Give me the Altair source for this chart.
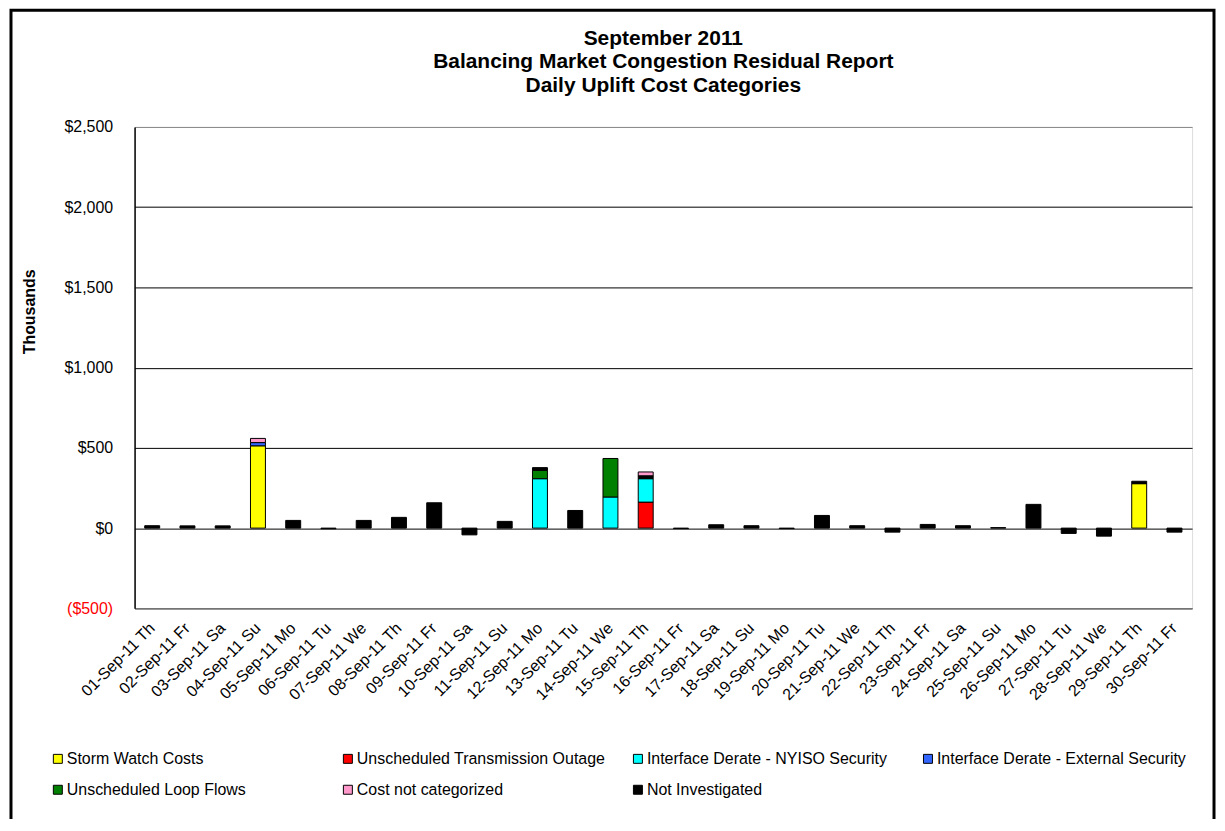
import altair as alt
import pandas as pd

days = ["01-Sep-11 Th", "02-Sep-11 Fr", "03-Sep-11 Sa", "04-Sep-11 Su", "05-Sep-11 Mo",
        "06-Sep-11 Tu", "07-Sep-11 We", "08-Sep-11 Th", "09-Sep-11 Fr", "10-Sep-11 Sa",
        "11-Sep-11 Su", "12-Sep-11 Mo", "13-Sep-11 Tu", "14-Sep-11 We", "15-Sep-11 Th",
        "16-Sep-11 Fr", "17-Sep-11 Sa", "18-Sep-11 Su", "19-Sep-11 Mo", "20-Sep-11 Tu",
        "21-Sep-11 We", "22-Sep-11 Th", "23-Sep-11 Fr", "24-Sep-11 Sa", "25-Sep-11 Su",
        "26-Sep-11 Mo", "27-Sep-11 Tu", "28-Sep-11 We", "29-Sep-11 Th", "30-Sep-11 Fr"]

categories = ["Storm Watch Costs", "Unscheduled Transmission Outage",
              "Interface Derate - NYISO Security", "Interface Derate - External Security",
              "Unscheduled Loop Flows", "Cost not categorized", "Not Investigated"]
colors = ["#FFFF00", "#FF0000", "#00FFFF", "#3366FF", "#008000", "#FF99CC", "#000000"]
# stacking order from the axis upward
stack_order = ["Storm Watch Costs", "Unscheduled Transmission Outage",
               "Interface Derate - NYISO Security", "Interface Derate - External Security",
               "Unscheduled Loop Flows", "Not Investigated", "Cost not categorized"]

storm_watch = [0, 0, 0, 513, 0, 0, 0, 0, 0, 0, 0, 0, 0, 0, 0,
               0, 0, 0, 0, 0, 0, 0, 0, 0, 0, 0, 0, 0, 277, 0]
transmission_outage = [0, 0, 0, 0, 0, 0, 0, 0, 0, 0, 0, 0, 0, 0, 162,
                       0, 0, 0, 0, 0, 0, 0, 0, 0, 0, 0, 0, 0, 0, 0]
nyiso_security = [0, 0, 0, 0, 0, 0, 0, 0, 0, 0, 0, 308, 0, 194, 146,
                  0, 0, 0, 0, 0, 0, 0, 0, 0, 0, 0, 0, 0, 0, 0]
external_security = [0, 0, 0, 20, 0, 0, 0, 0, 0, 0, 0, 0, 0, 0, 0,
                     0, 0, 0, 0, 0, 0, 0, 0, 0, 0, 0, 0, 0, 0, 0]
loop_flows = [0, 0, 0, 0, 0, 0, 0, 0, 0, 0, 0, 52, 0, 240, 0,
              0, 0, 0, 0, 0, 0, 0, 0, 0, 0, 0, 0, 0, 0, 0]
not_categorized = [0, 0, 0, 26, 0, 0, 0, 0, 0, 0, 0, 0, 0, 0, 25,
                   0, 0, 0, 0, 0, 0, 0, 0, 0, 0, 0, 0, 0, 0, 0]
not_investigated = [15, 14, 14, 0, 48, -4, 48, 67, 158, -42, 42, 17, 110, 0, 17,
                    -3, 21, 15, -3, 79, 15, -25, 23, 15, 3, 148, -33, -50, 15, -25]

series = {
    "Storm Watch Costs": storm_watch,
    "Unscheduled Transmission Outage": transmission_outage,
    "Interface Derate - NYISO Security": nyiso_security,
    "Interface Derate - External Security": external_security,
    "Unscheduled Loop Flows": loop_flows,
    "Cost not categorized": not_categorized,
    "Not Investigated": not_investigated,
}

rows = []
for cat, vals in series.items():
    for d, v in zip(days, vals):
        if v != 0:
            rows.append({"day": d, "category": cat, "value": v,
                         "rank": stack_order.index(cat)})
df = pd.DataFrame(rows)

FONT = "Liberation Sans"
PLOT_W, PLOT_H = 1061, 483

y_vals = [-500, 0, 500, 1000, 1500, 2000, 2500]

bars = alt.Chart(df).mark_bar(size=15, stroke="black", strokeWidth=1).encode(
    x=alt.X("day:N", sort=days, scale=alt.Scale(domain=days, paddingInner=0, paddingOuter=0),
            axis=alt.Axis(title=None, labelAngle=-45, labelAlign="right", labelBaseline="middle",
                          labelPadding=17, labelFontSize=16, labelFont=FONT, labelColor="black",
                          ticks=False, domainColor="#888888", labelOverlap=False)),
    y=alt.Y("value:Q", stack="zero",
            scale=alt.Scale(domain=[-500, 2500], nice=False, zero=False),
            axis=alt.Axis(values=y_vals, title="Thousands", titleFont=FONT, titleFontSize=16,
                          titleFontWeight="bold", titleColor="black", titleAngle=-90,
                          titleX=-105, titleY=185, titleAlign="center", titleBaseline="middle",
                          labelFont=FONT, labelFontSize=16, labelPadding=22, ticks=False,
                          labelExpr="datum.value < 0 ? '($' + format(-datum.value, ',') + ')' : '$' + format(datum.value, ',')",
                          labelColor={"condition": {"test": "datum.value < 0", "value": "#FF0000"}, "value": "black"},
                          grid=True, gridWidth=1,
                          gridColor={"condition": {"test": "datum.value == 2500", "value": "#888888"}, "value": "black"},
                          domainColor="black", domainWidth=1.5)),
    color=alt.Color("category:N", scale=alt.Scale(domain=categories, range=colors),
                    legend=alt.Legend(title=None, orient="none", legendX=-85, legendY=626,
                                      direction="horizontal",
                                      columns=4, gridAlign="all", columnPadding=24, rowPadding=15,
                                      symbolType="square", symbolSize=81, symbolStrokeColor="black",
                                      symbolStrokeWidth=1, labelFont=FONT, labelFontSize=16,
                                      labelColor="black", labelOffset=1, padding=0, labelLimit=400)),
    order=alt.Order("rank:Q", sort="ascending"),
)

frame_df = pd.DataFrame({"k": [0]})
frame = alt.Chart(frame_df).mark_rect(filled=False, stroke="black", strokeWidth=3).encode(
    x=alt.value(-124), x2=alt.value(1083), y=alt.value(-117), y2=alt.value(760)
)

chart = alt.layer(bars, frame).properties(
    width=PLOT_W, height=PLOT_H,
    title=alt.TitleParams(
        text=["September 2011", "Balancing Market Congestion Residual Report", "Daily Uplift Cost Categories"],
        font=FONT, fontSize=21, fontWeight="bold", color="black", anchor="middle",
        lineHeight=23.5, offset=0, dy=87),
    autosize=alt.AutoSizeParams(type="none"),
    padding={"left": 127, "top": 118, "right": 25, "bottom": 210},
).configure_view(stroke="#888888", strokeWidth=1.5).configure(background="white")

chart.save("out.html", embed_options={"renderer": "svg", "actions": False})
